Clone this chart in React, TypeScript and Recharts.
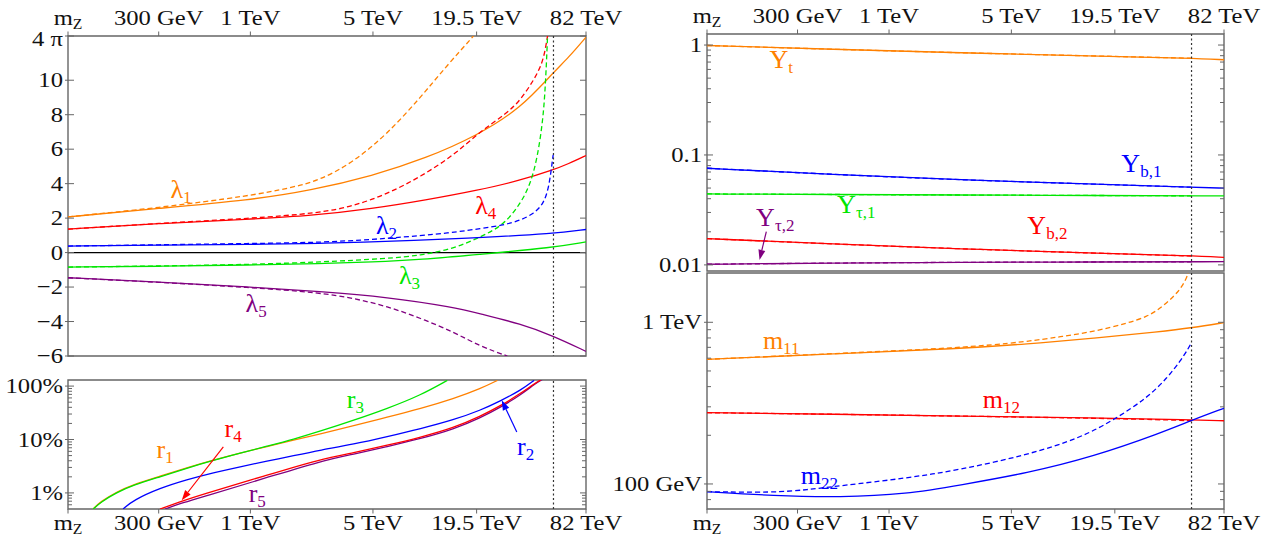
import React from "react";
import {
  LineChart, Line, XAxis, YAxis, ReferenceLine, ReferenceArea, ReferenceDot,
} from "recharts";

type Pt = [number, number];

const SERIF = "'Liberation Serif', 'Times New Roman', Times, serif";
const FRAME = "#666";
const SX = 1.12;
const TICK_FS = 22;

const ORANGE = "#ff8000";
const RED = "#ff0000";
const BLUE = "#0000ff";
const GREEN = "#00e600";
const PURPLE = "#800080";

// energy scale in GeV
const MZ = 91.19;
const MU_MAX = 82000;
const MU_CUT = 53500;
const muTicks = [MZ, 300, 1000, 5000, 19500, 82000];
const muLabels = ["mZ", "300 GeV", "1 TeV", "5 TeV", "19.5 TeV", "82 TeV"];

// quartic couplings (solid / dashed)
const lam1: Pt[] = [[MZ, 2.07], [300, 2.56], [1000, 3.05], [2200, 3.6], [5000, 4.46], [10000, 5.47], [19500, 6.77], [35000, 8.39], [53000, 10.42], [65000, 11.3], [82000, 12.5]];
const lam1Dash: Pt[] = [[MZ, 2.07], [300, 2.6], [1000, 3.3], [1690, 3.75], [2500, 4.2], [3860, 5.25], [5990, 6.85], [9340, 9.0], [13200, 10.85], [18750, 12.57]];
const lam2: Pt[] = [[MZ, 0.38], [300, 0.43], [1000, 0.48], [2500, 0.52], [9340, 0.72], [20560, 0.87], [53000, 1.1], [82000, 1.34]];
const lam2Dash: Pt[] = [[MZ, 0.38], [300, 0.45], [1000, 0.53], [2500, 0.58], [6030, 0.81], [14475, 1.16], [20560, 1.4], [27830, 1.59], [34800, 1.88], [41470, 2.27], [47100, 2.85], [50500, 3.82], [52800, 5.37], [53300, 5.67]];
const lam3: Pt[] = [[MZ, -0.84], [300, -0.8], [1000, -0.72], [2500, -0.64], [5000, -0.55], [9340, -0.41], [20560, -0.1], [53000, 0.29], [82000, 0.62]];
const lam3Dash: Pt[] = [[MZ, -0.84], [300, -0.78], [1000, -0.69], [2500, -0.55], [6030, -0.35], [9340, -0.16], [14475, 0.23], [20560, 0.91], [27830, 1.59], [34800, 2.85], [39700, 4.02], [43400, 5.57], [46300, 7.5], [47700, 9.06], [48800, 11.0], [49500, 12.57]];
const lam4: Pt[] = [[MZ, 1.36], [300, 1.69], [1000, 1.94], [2200, 2.13], [5000, 2.55], [10000, 3.05], [19500, 3.6], [35000, 4.2], [53000, 4.79], [65000, 5.15], [82000, 5.63]];
const lam4Dash: Pt[] = [[MZ, 1.36], [300, 1.7], [1000, 1.98], [2500, 2.3], [3880, 2.7], [6030, 3.4], [9340, 4.4], [14475, 5.65], [20560, 7.05], [29200, 8.1], [34800, 8.87], [41470, 10.03], [46300, 11.0], [48400, 11.97], [49500, 12.57]];
const lam5: Pt[] = [[MZ, -1.46], [300, -1.71], [1000, -2.0], [2500, -2.26], [6030, -2.58], [14475, -3.17], [20560, -3.56], [34800, -4.14], [53000, -4.82], [82000, -5.73]];
const lam5Dash: Pt[] = [[MZ, -1.46], [300, -1.72], [1000, -2.02], [2500, -2.33], [3880, -2.65], [6030, -3.12], [9340, -3.8], [14475, -4.62], [20560, -5.45], [29200, -6.0]];

// ratios r_i in percent
const r1: Pt[] = [[127, 0.5], [139, 0.68], [173, 1.05], [215, 1.44], [305, 2.06], [434, 2.97], [615, 4.14], [875, 5.6], [1243, 7.4], [1763, 9.7], [2506, 12.8], [3882, 18.1], [6026, 26.1], [9339, 37.9], [14475, 58.4], [20560, 89.8], [25620, 128]];
const r2: Pt[] = [[188, 0.5], [215, 0.73], [305, 1.23], [434, 1.77], [615, 2.39], [875, 3.1], [1243, 3.93], [1763, 4.98], [2506, 6.31], [3882, 8.17], [6026, 11.3], [9339, 15.9], [14475, 23.4], [20560, 35.3], [26760, 53.1], [34800, 83.4], [41470, 128]];
const r3: Pt[] = [[127, 0.5], [139, 0.66], [173, 1.02], [215, 1.4], [305, 2.0], [434, 2.9], [615, 4.07], [875, 5.55], [1243, 7.5], [1763, 10.1], [2506, 14.3], [3882, 22.9], [6026, 37.9], [9339, 67.3], [13270, 128]];
const r4: Pt[] = [[305, 0.5], [397, 0.68], [517, 0.91], [1243, 2.15], [2506, 4.28], [3882, 5.66], [6026, 7.8], [9339, 11.0], [14475, 16.6], [20560, 27.3], [26760, 42.8], [34800, 73.3], [41470, 110], [45290, 131]];
const r5: Pt[] = [[326, 0.5], [424, 0.675], [517, 0.817], [1243, 1.93], [2506, 3.93], [3882, 5.31], [6026, 7.34], [9339, 10.35], [14475, 15.6], [20560, 25.6], [26760, 40.2], [34800, 68.8], [42410, 113], [46430, 134]];

// Yukawa couplings
const yt: Pt[] = [[MZ, 0.99], [480, 0.915], [2555, 0.85], [14760, 0.796], [54310, 0.757], [82000, 0.735]];
const ytDash: Pt[] = [[MZ, 0.99], [480, 0.915], [2555, 0.85], [14760, 0.796], [53500, 0.758]];
const yb1: Pt[] = [[MZ, 0.0757], [480, 0.0665], [2555, 0.0593], [14760, 0.0543], [54310, 0.0508], [82000, 0.0499]];
const yb1Dash: Pt[] = [[MZ, 0.0757], [480, 0.0665], [2555, 0.0593], [14760, 0.0543], [53500, 0.0509]];
const ytau1: Pt[] = [[MZ, 0.0442], [480, 0.0437], [2555, 0.0432], [14760, 0.0428], [82000, 0.0424]];
const ytau1Dash: Pt[] = [[MZ, 0.0442], [480, 0.0437], [2555, 0.0432], [14760, 0.0428], [53500, 0.0425]];
const yb2: Pt[] = [[MZ, 0.01734], [480, 0.0155], [2555, 0.01398], [14760, 0.0128], [54310, 0.01208], [82000, 0.0117]];
const yb2Dash: Pt[] = [[MZ, 0.01734], [480, 0.0155], [2555, 0.01398], [14760, 0.0128], [53500, 0.01205]];
const ytau2: Pt[] = [[MZ, 0.01014], [480, 0.0104], [2555, 0.01056], [14760, 0.01063], [82000, 0.01069]];
const ytau2Dash: Pt[] = [[MZ, 0.01014], [480, 0.0104], [2555, 0.01056], [14760, 0.01063], [53500, 0.01067]];

// mass parameters in GeV
const m11: Pt[] = [[MZ, 590], [480, 637], [2555, 687], [6146, 734], [14760, 796], [35480, 875], [54310, 926], [82000, 995]];
const m11Dash: Pt[] = [[MZ, 590], [480, 640], [2555, 694], [6146, 759], [9528, 814], [14760, 875], [22910, 986], [29810, 1083], [35480, 1220], [42290, 1440], [47240, 1660], [50460, 1915], [51130, 2018]];
const m12: Pt[] = [[MZ, 276], [480, 270], [2555, 263], [14760, 256], [54310, 249], [82000, 246]];
const m12Dash: Pt[] = [[MZ, 276], [480, 270], [2555, 263], [14760, 255], [35480, 250], [53500, 246]];
const m22: Pt[] = [[MZ, 89.6], [219, 84.5], [527, 82.6], [1267, 86.5], [2555, 98.6], [6146, 116.6], [14760, 147.8], [35480, 206], [54310, 249], [82000, 294]];
const m22Dash: Pt[] = [[MZ, 89.6], [219, 88.4], [340, 92], [527, 97.5], [1267, 108.6], [2555, 122.6], [6146, 151], [12390, 192.5], [19200, 248.7], [29810, 340], [38780, 452], [46190, 576], [51520, 694], [53500, 750]];

// y ticks
const lamTicks = [-6, -4, -2, 0, 2, 4, 6, 8, 10, 4 * Math.PI];
const pctMajor = [1, 10, 100];
const pctTicks = [0.6, 0.7, 0.8, 0.9, 1, 2, 3, 4, 5, 6, 7, 8, 9, 10, 20, 30, 40, 50, 60, 70, 80, 90, 100];
const yukMajor = [0.01, 0.1, 1];
const yukTicks = [0.01, 0.02, 0.03, 0.04, 0.05, 0.06, 0.07, 0.08, 0.09, 0.1, 0.2, 0.3, 0.4, 0.5, 0.6, 0.7, 0.8, 0.9, 1];
const massMajor = [100, 1000];
const massTicks = [80, 90, 100, 200, 300, 400, 500, 600, 700, 800, 900, 1000];

type Curve = { pts: Pt[]; color: string; dashed?: boolean };
type Note = { at: Pt; main: string; sub: string; color: string };
type Arrow = { from: Pt; to: Pt; color: string };

const near = (a: number, b: number) => Math.abs(a - b) <= Math.abs(b) * 1e-6 + 1e-9;

function makeXTick(side: "top" | "bottom") {
  return function XTick(props: any) {
    const { x, y, payload } = props;
    const i = muTicks.findIndex((t) => near(payload.value, t));
    const d = side === "top" ? -1 : 1;
    const ty = side === "top" ? y - 11 : y + 21;
    return (
      <g>
        <line x1={x} x2={x} y1={y} y2={y + d * 4.5} stroke={FRAME} strokeWidth={1} />
        <text transform={`translate(${x},${ty}) scale(${SX},1)`} textAnchor="middle"
          fontFamily={SERIF} fontSize={TICK_FS} fill="#111">
          {i === 0 ? (<><tspan>m</tspan><tspan fontSize={14} dy={4}>Z</tspan></>) : muLabels[i]}
        </text>
      </g>
    );
  };
}

function makeYTick(major: number[], fmt: (v: number) => string, plotW: number) {
  return function YTick(props: any) {
    const { x, y, payload } = props;
    const v = payload.value as number;
    const big = major.some((m) => near(v, m));
    const len = big ? 6 : 4;
    // the top label of the coupling panel sits a little lower, inside the frame
    const dy = near(v, 4 * Math.PI) ? 10 : 7;
    return (
      <g>
        <line x1={x - (big ? 3 : 0)} x2={x + len} y1={y} y2={y} stroke={FRAME} strokeWidth={1} />
        <line x1={x + plotW - len} x2={x + plotW} y1={y} y2={y} stroke={FRAME} strokeWidth={1} />
        {big && (
          <text transform={`translate(${x - 5},${y + dy}) scale(${SX},1)`} textAnchor="end"
            fontFamily={SERIF} fontSize={TICK_FS} fill="#111">{fmt(v)}</text>
        )}
      </g>
    );
  };
}

const noteLabel = (n: Note) => (props: any) => {
  const vb = props.viewBox || {};
  const cx = (vb.x ?? 0) + (vb.width ?? 0) / 2;
  const cy = (vb.y ?? 0) + (vb.height ?? 0) / 2;
  return (
    <text x={cx} y={cy} textAnchor="middle" fontFamily={SERIF} fontSize={26} fill={n.color}>
      <tspan>{n.main}</tspan>
      <tspan fontSize={17} dy={5}>{n.sub}</tspan>
    </text>
  );
};

const arrowShape = (color: string) => (props: any) => {
  const { x1, y1, x2, y2 } = props;
  const a = Math.atan2(y2 - y1, x2 - x1);
  const L = 10, W = 3.5;
  const bx = x2 - L * Math.cos(a), by = y2 - L * Math.sin(a);
  const px = -Math.sin(a) * W, py = Math.cos(a) * W;
  return (
    <g>
      <line x1={x1} y1={y1} x2={bx} y2={by} stroke={color} strokeWidth={1.2} />
      <polygon points={`${x2},${y2} ${bx + px},${by + py} ${bx - px},${by - py}`} fill={color} />
    </g>
  );
};

interface PanelProps {
  left: number; top: number; width: number; height: number;
  margin: { top: number; right: number; bottom: number; left: number };
  axisW: number; xSide: "top" | "bottom"; xH: number;
  yDomain: [number, number]; logY?: boolean;
  yTicks: number[]; yMajor: number[]; yFmt: (v: number) => string;
  curves: Curve[]; notes: Note[]; arrows?: Arrow[]; zero?: boolean;
}

function Panel(p: PanelProps) {
  const plotW = p.width - p.margin.left - p.margin.right - p.axisW;
  return (
    <div style={{ position: "absolute", left: p.left, top: p.top }}>
      <LineChart width={p.width} height={p.height} margin={p.margin}>
        <XAxis dataKey="mu" type="number" scale="log" domain={[MZ, MU_MAX]} allowDataOverflow
          ticks={muTicks} interval={0} orientation={p.xSide} height={p.xH}
          axisLine={false} tickLine={false} tickSize={0} tickMargin={0} tick={makeXTick(p.xSide)} />
        <YAxis type="number" scale={p.logY ? "log" : "linear"} domain={p.yDomain} allowDataOverflow
          ticks={p.yTicks} interval={0} width={p.axisW}
          axisLine={false} tickLine={false} tickSize={0} tickMargin={0}
          tick={makeYTick(p.yMajor, p.yFmt, plotW)} />
        {p.zero && <ReferenceLine y={0} stroke="#000" strokeWidth={1.3} />}
        {p.curves.map((c, i) => (
          <Line key={i} data={c.pts.map(([mu, v]) => ({ mu, v }))} dataKey="v" type="basis"
            stroke={c.color} strokeWidth={1.3} strokeDasharray={c.dashed ? "5 3" : undefined}
            dot={false} activeDot={false} isAnimationActive={false} />
        ))}
        <ReferenceLine x={MU_CUT} stroke="#333" strokeWidth={1.2} strokeDasharray="2 2.5" />
        {(p.arrows || []).map((a, i) => (
          <ReferenceLine key={`a${i}`} segment={[{ x: a.from[0], y: a.from[1] }, { x: a.to[0], y: a.to[1] }]}
            stroke={a.color} shape={arrowShape(a.color)} />
        ))}
        {p.notes.map((n, i) => (
          <ReferenceDot key={`n${i}`} x={n.at[0]} y={n.at[1]} r={0} fill="none" stroke="none"
            label={noteLabel(n)} />
        ))}
        <ReferenceArea x1={MZ} x2={MU_MAX} y1={p.yDomain[0]} y2={p.yDomain[1]} fill="none"
          stroke={FRAME} strokeWidth={1.4} ifOverflow="visible" />
      </LineChart>
    </div>
  );
}

const lamFmt = (v: number) => (near(v, 4 * Math.PI) ? "4 π" : v < 0 ? `−${-v}` : `${v}`);
const pctFmt = (v: number) => `${v}%`;
const yukFmt = (v: number) => `${v}`;
const massFmt = (v: number) => (v >= 1000 ? `${v / 1000} TeV` : `${v} GeV`);

export default function App() {
  return (
    <div style={{ position: "absolute", left: 0, top: 0, width: 1282, height: 542, background: "#fff", overflow: "hidden" }}>
      <Panel left={0} top={0} width={640} height={370}
        margin={{ top: 0, right: 54, bottom: 14, left: 0 }} axisW={68} xSide="top" xH={36}
        yDomain={[-6, 4 * Math.PI]} yTicks={lamTicks} yMajor={lamTicks} yFmt={lamFmt} zero
        curves={[
          { pts: lam1, color: ORANGE }, { pts: lam1Dash, color: ORANGE, dashed: true },
          { pts: lam4, color: RED }, { pts: lam4Dash, color: RED, dashed: true },
          { pts: lam3, color: GREEN }, { pts: lam3Dash, color: GREEN, dashed: true },
          { pts: lam2, color: BLUE }, { pts: lam2Dash, color: BLUE, dashed: true },
          { pts: lam5, color: PURPLE }, { pts: lam5Dash, color: PURPLE, dashed: true },
        ]}
        notes={[
          { at: [402, 3.16], main: "λ", sub: "1", color: ORANGE },
          { at: [5970, 1.07], main: "λ", sub: "2", color: BLUE },
          { at: [8076, -1.85], main: "λ", sub: "3", color: GREEN },
          { at: [21980, 2.23], main: "λ", sub: "4", color: RED },
          { at: [1079, -3.42], main: "λ", sub: "5", color: PURPLE },
        ]} />
      <Panel left={0} top={370} width={640} height={172}
        margin={{ top: 10, right: 54, bottom: 0, left: 0 }} axisW={68} xSide="bottom" xH={33}
        yDomain={[0.5, 130]} logY yTicks={pctTicks} yMajor={pctMajor} yFmt={pctFmt}
        curves={[
          { pts: r1, color: ORANGE }, { pts: r3, color: GREEN }, { pts: r2, color: BLUE },
          { pts: r5, color: PURPLE }, { pts: r4, color: RED },
        ]}
        notes={[
          { at: [326, 4.47], main: "r", sub: "1", color: ORANGE },
          { at: [37150, 5.09], main: "r", sub: "2", color: BLUE },
          { at: [3972, 38.5], main: "r", sub: "3", color: GREEN },
          { at: [797, 11.04], main: "r", sub: "4", color: RED },
          { at: [1094, 0.673], main: "r", sub: "5", color: PURPLE },
        ]}
        arrows={[
          { from: [701, 7.27], to: [406, 0.733], color: RED },
          { from: [33040, 13.87], to: [27120, 54.3], color: BLUE },
        ]} />
      <Panel left={590} top={0} width={692} height={280}
        margin={{ top: 0, right: 58, bottom: 9, left: 0 }} axisW={117} xSide="top" xH={34}
        yDomain={[0.0088, 1.26]} logY yTicks={yukTicks} yMajor={yukMajor} yFmt={yukFmt}
        curves={[
          { pts: yt, color: ORANGE }, { pts: ytDash, color: ORANGE, dashed: true },
          { pts: yb1, color: BLUE }, { pts: yb1Dash, color: BLUE, dashed: true },
          { pts: ytau1, color: GREEN }, { pts: ytau1Dash, color: GREEN, dashed: true },
          { pts: yb2, color: RED }, { pts: yb2Dash, color: RED, dashed: true },
          { pts: ytau2, color: PURPLE }, { pts: ytau2Dash, color: PURPLE, dashed: true },
        ]}
        notes={[
          { at: [242, 0.618], main: "Y", sub: "t", color: ORANGE },
          { at: [27650, 0.0701], main: "Y", sub: "b,1", color: BLUE },
          { at: [650, 0.0297], main: "Y", sub: "τ,1", color: GREEN },
          { at: [8030, 0.01914], main: "Y", sub: "b,2", color: RED },
          { at: [224, 0.02264], main: "Y", sub: "τ,2", color: PURPLE },
        ]}
        arrows={[{ from: [199, 0.0201], to: [182, 0.0111], color: PURPLE }]} />
      <Panel left={590} top={262} width={692} height={280}
        margin={{ top: 11, right: 58, bottom: 0, left: 0 }} axisW={117} xSide="bottom" xH={33}
        yDomain={[70, 2018]} logY yTicks={massTicks} yMajor={massMajor} yFmt={massFmt}
        curves={[
          { pts: m11, color: ORANGE }, { pts: m11Dash, color: ORANGE, dashed: true },
          { pts: m12, color: RED }, { pts: m12Dash, color: RED, dashed: true },
          { pts: m22, color: BLUE }, { pts: m22Dash, color: BLUE, dashed: true },
        ]}
        notes={[
          { at: [242, 684], main: "m", sub: "11", color: ORANGE },
          { at: [4382, 295], main: "m", sub: "12", color: RED },
          { at: [400, 100], main: "m", sub: "22", color: BLUE },
        ]} />
    </div>
  );
}
